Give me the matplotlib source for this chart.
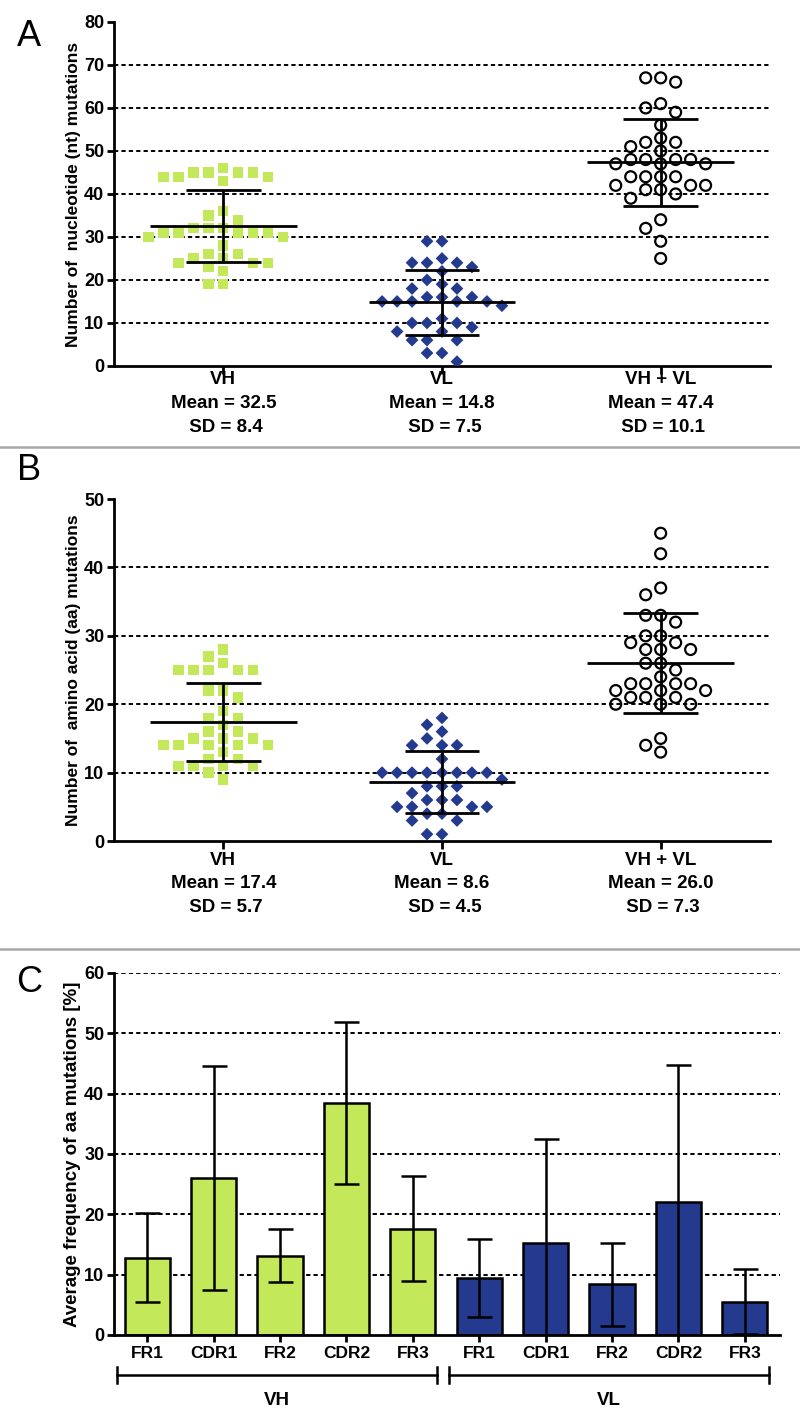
import numpy as np
import matplotlib
matplotlib.use('Agg')
import matplotlib.pyplot as plt
import matplotlib.transforms as mtransforms
from matplotlib.lines import Line2D

plt.rcParams['font.family'] = ['Liberation Sans', 'DejaVu Sans']
plt.rcParams['font.weight'] = 'bold'
NARROW = ['Liberation Sans Narrow', 'Liberation Sans', 'DejaVu Sans']

# ---- data ----
groups = ['VH', 'VL', 'VH + VL']

# A: nucleotide mutations per clone
nt_vh = [45, 45, 44, 44, 43, 44, 45, 45, 46, 36, 35, 34,
         32, 31, 31, 31, 32, 32, 30, 30, 31, 31, 28, 26, 26,
         25, 25, 24, 24, 24, 22, 23, 19, 19]
nt_vl = [29, 29, 25, 24, 24, 24, 23, 22, 20, 19, 18, 18, 16, 16, 16,
         15, 15, 15, 15, 15, 14, 11, 10, 10, 10, 9, 8, 8, 6, 6, 6, 3, 3, 1]
nt_all = [67, 67, 66, 61, 60, 59, 56, 53, 52, 52, 51, 50, 48, 48, 48, 48,
          47, 47, 47, 44, 44, 44, 44, 42, 42, 42, 41, 41, 40, 39, 34, 32, 29, 25]
nt_mean = [32.5, 14.8, 47.4]
nt_sd = [8.4, 7.5, 10.1]

# B: amino acid mutations per clone
aa_vh = [28, 27, 26, 25, 25, 25, 25, 25, 22, 22, 21, 19, 18, 18, 17, 16, 16,
         15, 15, 15, 14, 14, 14, 14, 14, 13, 12, 11, 12, 11, 11, 11, 10, 9]
aa_vl = [18, 17, 16, 15, 14, 14, 14, 12, 10, 10, 10, 10, 10, 10, 10, 10,
         9, 8, 8, 8, 7, 6, 6, 6, 5, 5, 5, 5, 4, 4, 3, 3, 1, 1]
aa_all = [45, 42, 37, 36, 33, 33, 32, 30, 30, 29, 29, 28, 28, 28, 26, 26, 25,
          24, 23, 23, 23, 23, 22, 22, 22, 21, 21, 21, 20, 20, 20, 15, 14, 13]
aa_mean = [17.4, 8.6, 26.0]
aa_sd = [5.7, 4.5, 7.3]

# C: average frequency of aa mutations per region [%]
regions = ['FR1', 'CDR1', 'FR2', 'CDR2', 'FR3']
freq_vh = [12.8, 26.0, 13.1, 38.5, 17.6]
freq_vh_sd = [7.4, 18.6, 4.4, 13.4, 8.7]
freq_vl = [9.4, 15.3, 8.4, 22.1, 5.5]
freq_vl_sd = [6.5, 17.2, 6.9, 22.6, 5.4]

GREEN = '#c3e85a'
BLUE = '#233a8e'


def swarm_offsets(vals, gap):
    # greedy slot placement: 0, -1, +1, -2, +2 ...
    vals = np.asarray(vals, float)
    offs = np.zeros(len(vals))
    placed = []
    for i in np.argsort(-vals, kind='stable'):
        v = vals[i]
        for k in range(60):
            s = ((k + 1) // 2) * (-1 if k % 2 else 1)
            if all(not (ps == s and abs(pv - v) < gap) for ps, pv in placed):
                break
        placed.append((s, v))
        offs[i] = s
    return offs


def style_axes(ax, ymax, step, hide_top=True):
    ax.set_ylim(0, ymax)
    ax.set_yticks(np.arange(0, ymax + 1, step))
    for s in ['top', 'right']:
        ax.spines[s].set_visible(False)
    for s in ['left', 'bottom']:
        ax.spines[s].set_linewidth(2)
    ax.tick_params(axis='y', direction='out', length=5, width=2, labelsize=13, pad=2)
    ax.tick_params(axis='x', direction='out', length=6, width=2)
    ax.set_axisbelow(True)
    ax.yaxis.grid(True, color='black', linestyle=(0, (2.2, 1.6)), linewidth=1.4)
    gl = ax.get_ygridlines()
    gl[0].set_visible(False)
    if hide_top:
        gl[-1].set_visible(False)


def dot_panel(ax, data, means, sds, ymax, step, gap, ylabel, label_y):
    markers = [dict(marker='s', s=55, c=GREEN, edgecolors='none'),
               dict(marker='D', s=42, c=BLUE, edgecolors='none'),
               dict(marker='o', s=62, facecolors='none', edgecolors='black', linewidths=1.6)]
    for i, vals in enumerate(data):
        x = i + 1 + swarm_offsets(vals, gap) * 0.0685
        ax.scatter(x, vals, zorder=3, **markers[i])
        m, sd = means[i], sds[i]
        ax.hlines(m, i + 1 - 0.335, i + 1 + 0.335, color='black', lw=2, zorder=4)
        ax.vlines(i + 1, m - sd, m + sd, color='black', lw=2, zorder=4)
        ax.hlines([m - sd, m + sd], i + 1 - 0.17, i + 1 + 0.17, color='black', lw=2, zorder=4)
    ax.set_xlim(0.5, 3.5)
    style_axes(ax, ymax, step)
    ax.set_xticks([1, 2, 3])
    ax.set_xticklabels([])
    ax.set_ylabel(ylabel, fontsize=12.5, fontweight='bold')
    ax.yaxis.set_label_coords(-0.051, 0.5)
    tr = mtransforms.blended_transform_factory(ax.transData, ax.transAxes)
    for i, g in enumerate(groups):
        lines = [g, 'Mean = %.1f' % means[i], ' SD = %.1f' % sds[i]]
        for j, t in enumerate(lines):
            ax.text(i + 1, label_y[j], t, transform=tr, ha='center', va='center',
                    fontsize=13.5, fontweight='bold', family=NARROW)


fig = plt.figure(figsize=(8, 14.25), dpi=100)

axA = fig.add_axes([0.1425, 0.7432, 0.82, 0.2414])
dot_panel(axA, [nt_vh, nt_vl, nt_all], nt_mean, nt_sd, 80, 10, 2.3,
          'Number of  nucleotide (nt) mutations', [-0.038, -0.108, -0.18])

axB = fig.add_axes([0.1425, 0.4098, 0.82, 0.240])
dot_panel(axB, [aa_vh, aa_vl, aa_all], aa_mean, aa_sd, 50, 10, 1.5,
          'Number of  amino acid (aa) mutations', [-0.056, -0.123, -0.193])

# C: bar chart
axC = fig.add_axes([0.1425, 0.0632, 0.8325, 0.254])
xvh = np.arange(len(regions))
xvl = np.arange(len(regions)) + len(regions)
axC.bar(xvh, freq_vh, width=0.68, color=GREEN, edgecolor='black', linewidth=1.8, zorder=2)
axC.bar(xvl, freq_vl, width=0.68, color=BLUE, edgecolor='black', linewidth=1.8, zorder=2)
axC.errorbar(xvh, freq_vh, yerr=freq_vh_sd, fmt='none', ecolor='black',
             elinewidth=1.8, capsize=9, capthick=1.8, zorder=3)
axC.errorbar(xvl, freq_vl, yerr=freq_vl_sd, fmt='none', ecolor='black',
             elinewidth=1.8, capsize=9, capthick=1.8, zorder=3)
axC.set_xlim(-0.5, 9.53)
style_axes(axC, 60, 10, hide_top=False)
axC.set_xticks(np.concatenate([xvh, xvl]))
axC.set_xticklabels(regions + regions, fontsize=12.5, fontweight='bold')
axC.tick_params(axis='x', length=5, pad=3)
axC.set_ylabel('Average frequency of aa mutations [%]', fontsize=13.5, fontweight='bold')
axC.yaxis.set_label_coords(-0.05, 0.5)

trC = mtransforms.blended_transform_factory(axC.transData, axC.transAxes)
for xs, name in [(xvh, 'VH'), (xvl, 'VL')]:
    x0, x1 = xs[0] - 0.45, xs[-1] + 0.36
    yb = -0.11
    axC.plot([x0, x1], [yb, yb], color='black', lw=1.8, transform=trC, clip_on=False)
    axC.plot([x0, x0], [yb - 0.022, yb + 0.022], color='black', lw=1.8, transform=trC, clip_on=False)
    axC.plot([x1, x1], [yb - 0.022, yb + 0.022], color='black', lw=1.8, transform=trC, clip_on=False)
    axC.text((x0 + x1) / 2, -0.18, name, transform=trC, ha='center', va='center',
             fontsize=13.5, fontweight='bold')

# panel letters and dividers
for lab, yy in [('A', 1 - 36 / 1425), ('B', 1 - 470 / 1425), ('C', 1 - 982 / 1425)]:
    fig.text(0.036, yy, lab, fontsize=26, fontweight='normal', ha='center', va='center')
for yy in [1 - 447 / 1425, 1 - 949 / 1425]:
    fig.add_artist(Line2D([0, 1], [yy, yy], transform=fig.transFigure, color='#a8a8a8', lw=1.8))

fig.savefig('out.png', dpi=100)
